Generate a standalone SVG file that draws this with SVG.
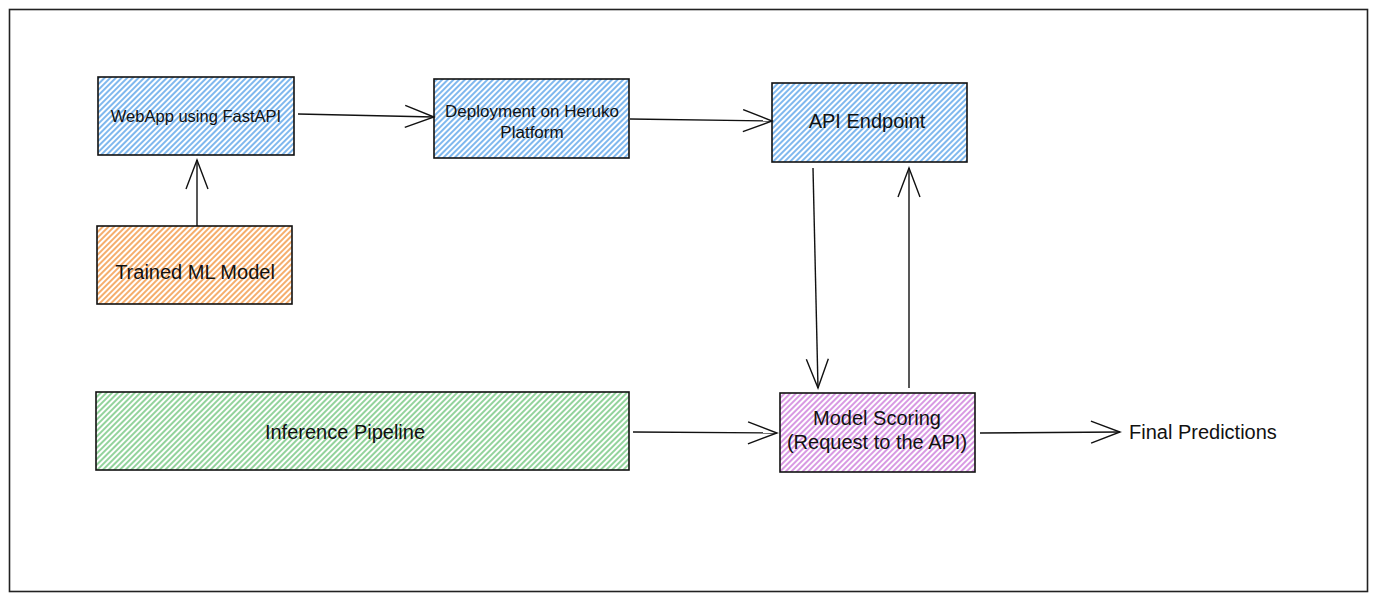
<svg xmlns="http://www.w3.org/2000/svg" width="1377" height="602" viewBox="0 0 1377 602">
<defs>
<pattern id="hBlue" patternUnits="userSpaceOnUse" width="4" height="4" patternTransform="rotate(-45)"><rect width="4" height="4" fill="#fff"/><line x1="0" y1="1" x2="4" y2="1" stroke="#5fa6ea" stroke-width="1.6"/></pattern>
<pattern id="hOrange" patternUnits="userSpaceOnUse" width="4" height="4" patternTransform="rotate(-45)"><rect width="4" height="4" fill="#fff"/><line x1="0" y1="1" x2="4" y2="1" stroke="#f39a48" stroke-width="1.6"/></pattern>
<pattern id="hGreen" patternUnits="userSpaceOnUse" width="4" height="4" patternTransform="rotate(-45)"><rect width="4" height="4" fill="#fff"/><line x1="0" y1="1" x2="4" y2="1" stroke="#78c883" stroke-width="1.6"/></pattern>
<pattern id="hPurple" patternUnits="userSpaceOnUse" width="4" height="4" patternTransform="rotate(-45)"><rect width="4" height="4" fill="#fff"/><line x1="0" y1="1" x2="4" y2="1" stroke="#cf80dc" stroke-width="1.6"/></pattern>
<marker id="arr" markerUnits="userSpaceOnUse" markerWidth="34" markerHeight="28" refX="30" refY="12" orient="auto"><path d="M1,1 L30,12 L1,23" fill="none" stroke="#111" stroke-width="1.4"/></marker>
</defs>
<style>
.box{stroke:#111;stroke-width:1.6}
text{font-family:"Liberation Sans",Arial,sans-serif;fill:#111;text-anchor:middle}
.t20{font-size:20px}
.t17{font-size:17px}
.t16{font-size:16.5px}
.conn path{fill:none;stroke:#111;stroke-width:1.4;marker-end:url(#arr)}
</style>
<rect width="1377" height="602" fill="#fff"/>
<rect x="9.5" y="9.5" width="1358" height="582" fill="none" stroke="#222" stroke-width="1.6"/>
<g id="webapp"><rect class="box" x="98" y="77" width="196" height="78" fill="url(#hBlue)"/><text class="t16" x="196" y="122">WebApp using FastAPI</text></g>
<g id="deployment"><rect class="box" x="434" y="79" width="195" height="79" fill="url(#hBlue)"/><text class="t17" x="532" y="117">Deployment on Heruko</text><text class="t17" x="532" y="138">Platform</text></g>
<g id="api"><rect class="box" x="772" y="83" width="195" height="79" fill="url(#hBlue)"/><text class="t20" x="867" y="128">API Endpoint</text></g>
<g id="trained"><rect class="box" x="97" y="226" width="195" height="78" fill="url(#hOrange)"/><text class="t20" x="195" y="279">Trained ML Model</text></g>
<g id="inference"><rect class="box" x="96" y="392" width="533" height="78" fill="url(#hGreen)"/><text class="t20" x="345" y="439">Inference Pipeline</text></g>
<g id="scoring"><rect class="box" x="780" y="393" width="195" height="79" fill="url(#hPurple)"/><text class="t20" x="877" y="425">Model Scoring</text><text class="t20" x="877" y="449">(Request to the API)</text></g>
<g id="final"><text class="t20" x="1129" y="439" style="text-anchor:start">Final Predictions</text></g>
<g id="connectors" class="conn">
<path d="M298,114 L434,117"/>
<path d="M197,226 L197,160"/>
<path d="M630,119 L772,121"/>
<path d="M813,168 L818,388"/>
<path d="M909,388 L909,168"/>
<path d="M633,432 L777,433"/>
<path d="M980,433 L1120,432"/>
</g>
</svg>
